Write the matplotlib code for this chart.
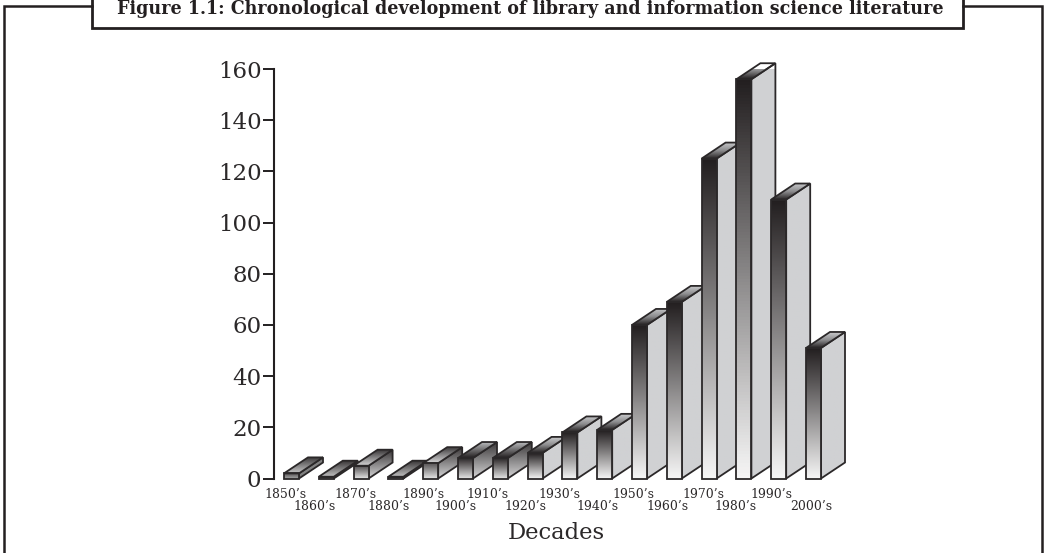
import numpy as np
import matplotlib
matplotlib.use("Agg")
import matplotlib.pyplot as plt
from matplotlib.colors import LinearSegmentedColormap
from matplotlib.patches import Polygon, Rectangle

decades = ["1850’s", "1860’s", "1870’s", "1880’s", "1890’s", "1900’s", "1910’s", "1920’s",
           "1930’s", "1940’s", "1950’s", "1960’s", "1970’s", "1980’s", "1990’s", "2000’s"]
counts = [2, 0.7, 5, 0.7, 6, 8, 8, 10, 18, 19, 60, 69, 125, 156, 109, 51]
y_ticks = [0, 20, 40, 60, 80, 100, 120, 140, 160]
title = "Figure 1.1: Chronological development of library and information science literature"
x_title = "Decades"

W, H = 1045, 553
fig = plt.figure(figsize=(W / 100, H / 100), dpi=100)
plt.rcParams["font.family"] = ["DejaVu Serif"]
INK = "#2b2829"

# page frame
bg = fig.add_axes([0, 0, 1, 1])
bg.set_xlim(0, W); bg.set_ylim(H, 0); bg.axis("off")
bg.plot([4, 4, 92], [H + 5, 6, 6], color="#231f20", lw=1.8, solid_joinstyle="miter")
bg.plot([963, 1042, 1042], [6, 6, H + 5], color="#231f20", lw=1.8, solid_joinstyle="miter")
bg.add_patch(Rectangle((92, -5), 871, 33, fc="white", ec="#231f20", lw=2.0))
bg.text(530.5, 9.5, title, ha="center", va="center", fontsize=12.65, fontweight="bold", color="#231f20")

# plot axes: x unit = one decade slot, y unit = value
X0, Y0, Y160 = 274, 478.5, 69
SLOT = 34.8
ax = fig.add_axes([X0 / W, 1 - Y0 / H, 586 / W, (Y0 - Y160) / H])
ax.patch.set_alpha(0)
ypx = (Y0 - Y160) / 160
ax.set_ylim(0, 160)
ax.set_xlim(-17.5 / SLOT, (-17.5 + 586) / SLOT)
for s in ["top", "right", "bottom"]:
    ax.spines[s].set_visible(False)
ax.spines["left"].set_linewidth(1.5)
ax.spines["left"].set_color("#231f20")
ax.set_yticks(y_ticks)
ax.tick_params(axis="y", length=8, width=1.4, color="#231f20", labelsize=16.5,
               labelcolor=INK, pad=1)
ax.set_xticks([])

bw = 15 / SLOT
dx = 24 / SLOT
dy = 16 / ypx
edge = "#2b2829"


def grad(poly, stops, z):
    """Fill polygon with a vertical gradient (first stop on top) clipped to its outline."""
    cmap = LinearSegmentedColormap.from_list("g", stops)
    xs, ys = zip(*poly)
    g = np.linspace(1, 0, 128).reshape(-1, 1)
    im = ax.imshow(g, cmap=cmap, vmin=0, vmax=1, aspect="auto", origin="lower",
                   extent=[min(xs), max(xs), min(ys), max(ys)], zorder=z)
    p = Polygon(poly, closed=True, fc="none", ec=edge, lw=1.3, zorder=z + 0.1,
                joinstyle="miter", clip_on=False)
    ax.add_patch(p)
    im.set_clip_path(p)


ax.set_autoscale_on(False)
for i, v in enumerate(counts):
    x = i - bw / 2
    z = 2 + i * 0.5
    front = [(x, 0), (x + bw, 0), (x + bw, v), (x, v)]
    side = [(x + bw, 0), (x + bw + dx, dy), (x + bw + dx, v + dy), (x + bw, v)]
    top = [(x, v), (x + bw, v), (x + bw + dx, v + dy), (x + dx, v + dy)]
    if v >= 10:
        grad(side, ["#d0d1d3", "#d0d1d3"], z)
        grad(top, ["#c9cacc", "#8c8c8e", "#231f20"], z + 0.2)
        grad(front, ["#231f20", "#f6f6f6"], z + 0.3)
    elif v >= 7:
        grad(side, ["#3c393a", "#d8d8d9"], z)
        grad(top, ["#b8b9bb", "#231f20"], z + 0.2)
        grad(front, ["#2a2627", "#e8e8e8"], z + 0.3)
    elif v >= 3:
        grad(side, ["#3c393a", "#d8d8d9"], z)
        grad(top, ["#3c393a", "#d8d8d9"], z + 0.2)
        grad(front, ["#555253", "#e8e8e8"], z + 0.3)
    else:
        grad(side, ["#808080", "#808080"], z)
        grad(top, ["#3c393a", "#c4c4c4"], z + 0.2)
        grad(front, ["#555253", "#aaaaaa"], z + 0.3)

# alternating decade labels
label_dx = [-6.5, -11.3, -6, -7, -7.7, -10.5, -12.3, -10, -10, -6.7, -6.5, -7.3, -6, -8, -7, -2.5]
label_y = [494, 506]
for i, lab in enumerate(decades):
    bg.text(291.5 + SLOT * i + label_dx[i], label_y[i % 2], lab, ha="center", va="center",
            fontsize=8.9, color=INK, zorder=5)
bg.text(556, 533, x_title, ha="center", va="center", fontsize=16.3, color=INK)

fig.savefig("out.png", dpi=100)
